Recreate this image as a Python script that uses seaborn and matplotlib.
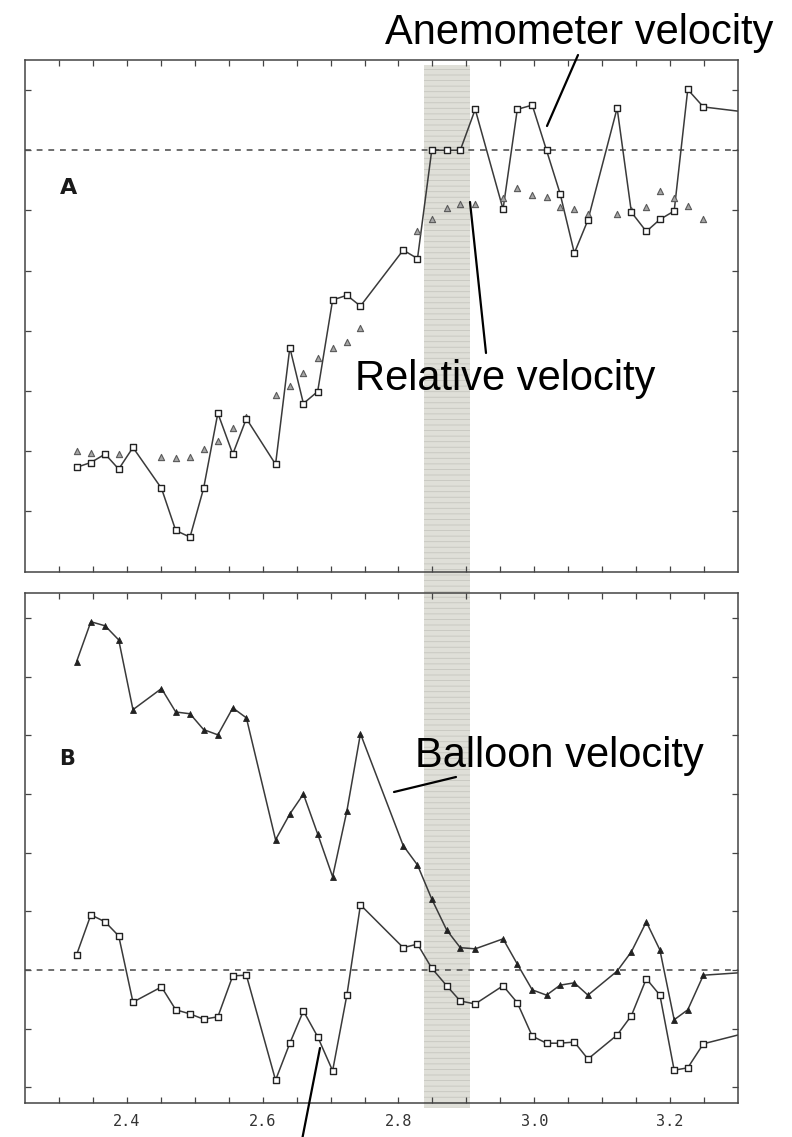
import numpy as np
import pandas as pd
import matplotlib
matplotlib.use("Agg")
import matplotlib.pyplot as plt
import matplotlib.transforms as mtransforms
from matplotlib.patches import Rectangle
from matplotlib.lines import Line2D
import seaborn as sns

sns.set_style("ticks")
plt.rcParams["font.family"] = ["DejaVu Sans"]
plt.rcParams["hatch.linewidth"] = 0.6

# Sampling times (days)
time = [2.326, 2.347, 2.368, 2.388, 2.409, 2.451, 2.472, 2.493, 2.513, 2.534,
        2.556, 2.576, 2.619, 2.640, 2.660, 2.681, 2.703, 2.724, 2.744, 2.807,
        2.828, 2.849, 2.871, 2.891, 2.913, 2.954, 2.975, 2.997, 3.018, 3.038,
        3.059, 3.079, 3.122, 3.143, 3.165, 3.185, 3.206, 3.226, 3.249, 3.300]

# Panel A: anemometer velocity (connected squares) and relative velocity (triangles)
anemometer = [-5.27, -5.19, -5.05, -5.30, -4.94, -5.62, -6.32, -6.43, -5.62, -4.37,
              -5.05, -4.46, -5.22, -3.28, -4.21, -4.01, -2.49, -2.41, -2.59, -1.66,
              -1.80, 0.00, 0.00, 0.00, 0.68, -0.98, 0.68, 0.75, 0.00, -0.72,
              -1.71, -1.16, 0.70, -1.03, -1.35, -1.15, -1.01, 1.01, 0.72, 0.65]
relative = [-5.00, -5.04, -5.05, -5.05, -4.94, -5.10, -5.12, -5.10, -4.96, -4.84,
            -4.62, -4.44, -4.06, -3.92, -3.71, -3.46, -3.29, -3.18, -2.96, -1.66,
            -1.35, -1.15, -0.96, -0.90, -0.90, -0.80, -0.63, -0.75, -0.78, -0.95,
            -0.98, -1.06, -1.06, -1.00, -0.95, -0.68, -0.80, -0.93, -1.15]

# Panel B: balloon velocity (triangles) and lower series (squares)
balloon = [5.26, 5.94, 5.87, 5.63, 4.44, 4.80, 4.40, 4.37, 4.10, 4.01,
           4.47, 4.30, 2.22, 2.66, 3.00, 2.32, 1.59, 2.71, 4.03, 2.12,
           1.79, 1.21, 0.68, 0.38, 0.36, 0.53, 0.10, -0.34, -0.43, -0.26,
           -0.22, -0.43, -0.02, 0.31, 0.82, 0.34, -0.85, -0.68, -0.09, -0.05]
lower = [0.26, 0.94, 0.82, 0.58, -0.55, -0.29, -0.68, -0.75, -0.84, -0.80,
         -0.10, -0.09, -1.88, -1.25, -0.70, -1.14, -1.72, -0.43, 1.11, 0.38,
         0.44, 0.03, -0.27, -0.53, -0.58, -0.27, -0.56, -1.13, -1.25, -1.25,
         -1.23, -1.52, -1.11, -0.78, -0.15, -0.43, -1.71, -1.67, -1.26, -1.11]

x_labels = ["2.4", "2.6", "2.8", "3.0", "3.2"]
band = (2.838, 2.906)

line_col = "#3a3a3a"
W, H = 792, 1137
fig = plt.figure(figsize=(W / 100, H / 100), dpi=100)
fig.patch.set_facecolor("white")

ax_a = fig.add_axes([25 / W, 1 - 572 / H, 713 / W, 512 / H])
ax_b = fig.add_axes([25 / W, 1 - 1103 / H, 713 / W, 510 / H])

n_mark = len(time) - 1  # last sample lies on the right frame edge

for ax in (ax_a, ax_b):
    ax.set_facecolor("none")
    ax.set_xlim(2.25, 3.30)
    ax.set_xticks(np.round(np.arange(2.30, 3.26, 0.05), 2))
    ax.tick_params(direction="in", length=4, width=0.9, top=True, right=True,
                   colors="#444444", labelsize=11)
    for s in ax.spines.values():
        s.set_color("#444444")
        s.set_linewidth(1.1)
    ax.axhline(0, color="#555555", lw=1.2, ls=(0, (3.5, 3.5)), zorder=1)

# Panel A
ax_a.set_ylim(-7.01, 1.5)
ax_a.set_yticks(range(-6, 2))
ax_a.set_yticklabels([])
ax_a.set_xticklabels([])
dfa = pd.DataFrame({"t": time, "v": anemometer})
sns.lineplot(data=dfa, x="t", y="v", estimator=None, sort=False, color=line_col,
             lw=1.1, ax=ax_a, zorder=2)
sns.scatterplot(x=time[:n_mark], y=anemometer[:n_mark], marker="s", s=20,
                color="white", edgecolor="#222222", linewidth=1.0, ax=ax_a, zorder=4)
sns.scatterplot(x=time[:len(relative)], y=relative, marker="^", s=20,
                color="#a5a5a5", edgecolor="#5a5a5a", linewidth=0.8, ax=ax_a, zorder=3)
ax_a.text(2.302, -0.62, "A", fontsize=16, fontweight="bold", color="#1a1a1a",
          va="center", ha="left")

# Panel B
ax_b.set_ylim(-2.27, 6.43)
ax_b.set_yticks(range(-2, 7))
ax_b.set_yticklabels([])
dfb = pd.DataFrame({"t": time, "b": balloon, "l": lower})
sns.lineplot(data=dfb, x="t", y="b", estimator=None, sort=False, color=line_col,
             lw=1.1, ax=ax_b, zorder=2)
sns.scatterplot(x=time[:n_mark], y=balloon[:n_mark], marker="^", s=18,
                color="#222222", edgecolor="#222222", linewidth=0.6, ax=ax_b, zorder=4)
sns.lineplot(data=dfb, x="t", y="l", estimator=None, sort=False, color=line_col,
             lw=1.1, ax=ax_b, zorder=2)
sns.scatterplot(x=time[:n_mark], y=lower[:n_mark], marker="s", s=20,
                color="white", edgecolor="#222222", linewidth=1.0, ax=ax_b, zorder=4)
ax_b.text(2.30, 3.6, "B", fontsize=15, fontweight="bold", color="#1a1a1a",
          va="center", ha="left")

tick_vals = ax_b.get_xticks()
ax_b.set_xticklabels([f"{v:.1f}" if f"{v:.1f}" in x_labels and abs(v * 10 - round(v * 10)) < 1e-6
                      else "" for v in tick_vals],
                     fontfamily="DejaVu Sans Mono", color="#333333")
ax_b.tick_params(axis="x", pad=8)
for ax in (ax_a, ax_b):
    ax.set_xlabel("")
    ax.set_ylabel("")

# Shaded interval spanning both panels
trans = mtransforms.blended_transform_factory(ax_a.transData, fig.transFigure)
rect = Rectangle((band[0], 1 - 1108 / H), band[1] - band[0], (1108 - 65) / H,
                 transform=trans, facecolor="#dfdfd8", edgecolor="#c6c6bf",
                 hatch="---", linewidth=0, zorder=-1)
fig.add_artist(rect)


def fpt(px, py):
    return px / W, 1 - py / H


# Callout labels and leader lines
for (px, py), label in [((385, 44), "Anemometer velocity"),
                        ((355, 390), "Relative velocity"),
                        ((415, 767), "Balloon velocity")]:
    fig.text(*fpt(px, py), label, fontsize=30, family="Liberation Sans",
             color="black", ha="left", va="baseline", zorder=11)
for (x0, y0), (x1, y1) in [((578, 55), (547, 126)), ((470, 202), (486, 353)),
                           ((394, 792), (456, 777)), ((320, 1048), (302, 1140))]:
    a, b = fpt(x0, y0)
    c, d = fpt(x1, y1)
    fig.add_artist(Line2D([a, c], [b, d], transform=fig.transFigure,
                          color="black", lw=1.6, zorder=10))

fig.savefig("out.png", dpi=100)
